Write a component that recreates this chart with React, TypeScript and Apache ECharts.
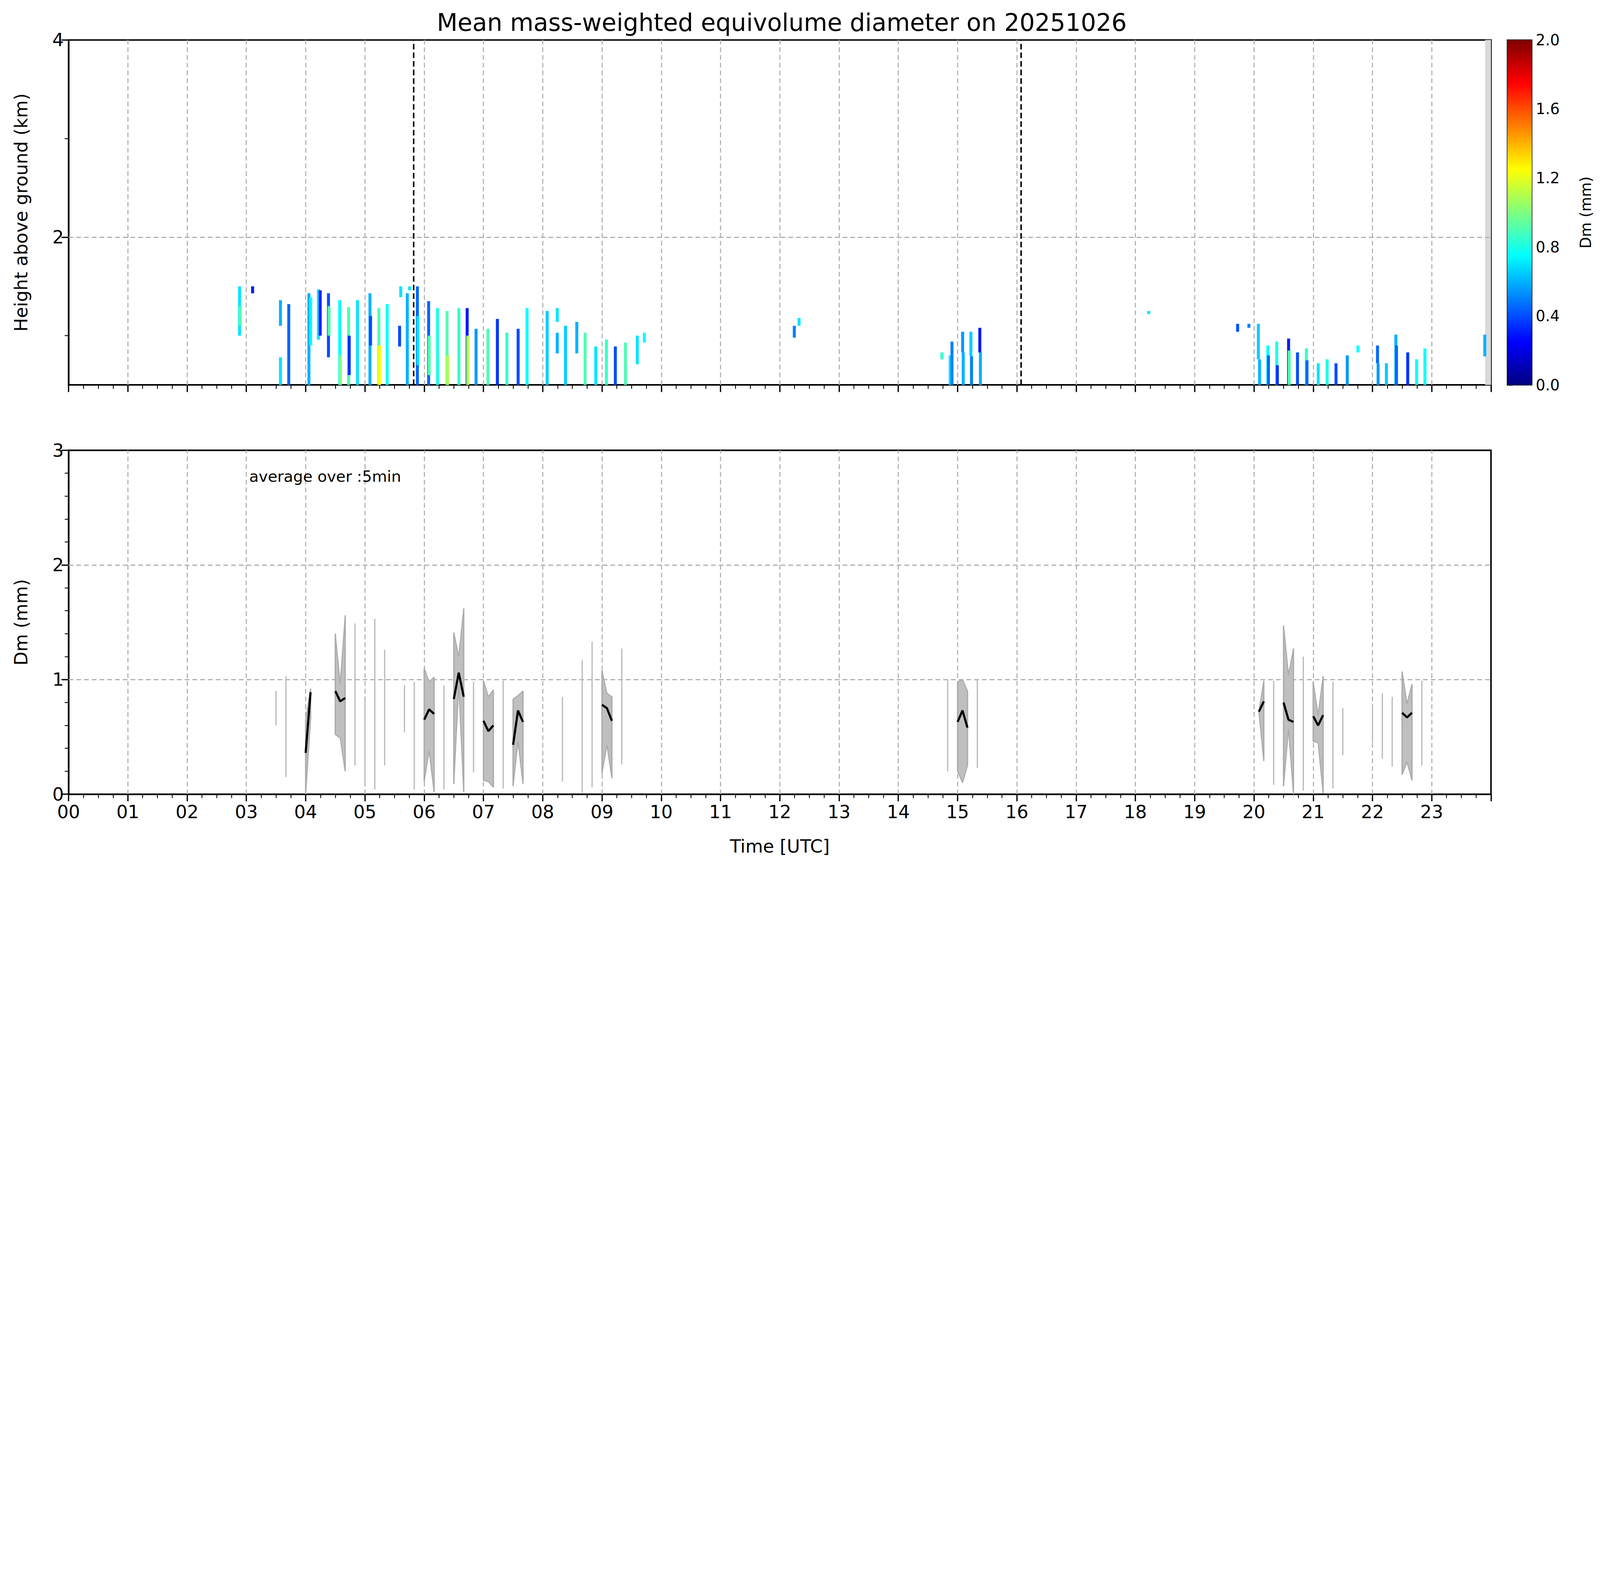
import React, { useEffect, useRef } from 'react';
import * as echarts from 'echarts';

// radar columns: time (h), bottom (km), top (km), Dm (mm)
const colTime = [
  2.86, 2.87, 3.08, 3.55, 3.55, 3.69, 4.03, 4.06, 4.19, 4.22, 4.36, 4.37, 4.55, 4.56, 4.70, 4.71,
  4.85, 5.06, 5.07, 5.21, 5.22, 5.35, 5.56, 5.58, 5.69, 5.73, 5.86, 5.87, 6.05, 6.06, 6.20, 6.36,
  6.37, 6.56, 6.70, 6.71, 6.85, 7.05, 7.21, 7.37, 7.56, 7.71, 8.05, 8.22, 8.22, 8.36, 8.55, 8.69,
  8.87, 9.05, 9.20, 9.37, 9.57, 9.69, 12.22, 12.30,
  14.71, 14.85, 14.88, 15.06, 15.07, 15.20, 15.21, 15.35, 15.36, 18.20,
  19.70, 19.89, 20.05, 20.07, 20.21, 20.22, 20.36, 20.37, 20.56, 20.57, 20.71, 20.86, 20.87, 21.06,
  21.21, 21.36, 21.55, 21.73, 22.06, 22.07, 22.21, 22.37, 22.38, 22.57, 22.72, 22.86, 23.87,
];
const colBottom = [
  1.0, 1.1, 1.43, 1.1, 0.5, 0.5, 0.5, 0.9, 0.96, 1.0, 0.78, 1.0, 0.5, 0.5, 0.5, 0.6,
  0.5, 0.5, 0.9, 0.5, 0.5, 0.5, 0.89, 1.39, 0.5, 1.46, 0.5, 0.7, 0.5, 0.6, 0.5, 0.5,
  0.5, 0.5, 0.5, 0.5, 0.5, 0.5, 0.5, 0.5, 0.5, 0.5, 0.5, 1.14, 0.82, 0.5, 0.82, 0.5,
  0.5, 0.5, 0.5, 0.5, 0.71, 0.93, 0.98, 1.1,
  0.76, 0.5, 0.5, 0.83, 0.5, 0.79, 0.5, 0.83, 0.5, 1.22,
  1.04, 1.08, 0.76, 0.5, 0.5, 0.5, 0.5, 0.5, 0.5, 0.5, 0.5, 0.5, 0.5, 0.5,
  0.5, 0.5, 0.5, 0.83, 0.72, 0.5, 0.5, 0.5, 0.5, 0.5, 0.5, 0.5, 0.79,
];
const colTop = [
  1.5, 1.3, 1.5, 1.36, 0.78, 1.32, 1.43, 1.39, 1.47, 1.46, 1.43, 1.3, 1.36, 0.8, 1.29, 1.0,
  1.36, 1.43, 1.2, 1.28, 0.9, 1.32, 1.1, 1.5, 1.43, 1.5, 1.5, 1.2, 1.35, 1.0, 1.28, 1.25,
  0.8, 1.28, 1.28, 1.0, 1.07, 1.07, 1.17, 1.03, 1.07, 1.28, 1.25, 1.28, 1.03, 1.1, 1.14, 1.03,
  0.89, 0.96, 0.89, 0.93, 1.0, 1.03, 1.1, 1.18,
  0.83, 0.8, 0.94, 1.04, 0.83, 1.04, 0.79, 1.08, 0.83, 1.25,
  1.12, 1.12, 1.12, 0.76, 0.9, 0.8, 0.94, 0.7, 0.97, 0.85, 0.83, 0.87, 0.75, 0.72,
  0.76, 0.72, 0.8, 0.9, 0.9, 0.72, 0.72, 1.01, 0.9, 0.83, 0.76, 0.87, 1.01,
];
const colDm = [
  0.7, 0.9, 0.3, 0.6, 0.7, 0.45, 0.6, 0.75, 0.7, 0.3, 0.4, 0.9, 0.75, 1.0, 0.9, 0.35,
  0.7, 0.6, 0.4, 0.9, 1.25, 0.75, 0.4, 0.7, 0.6, 0.7, 0.45, 0.7, 0.45, 0.9, 0.8, 0.9,
  1.1, 0.85, 0.3, 1.1, 0.55, 0.9, 0.35, 0.85, 0.4, 0.75, 0.65, 0.7, 0.6, 0.65, 0.6, 0.9,
  0.7, 0.85, 0.4, 0.9, 0.7, 0.75, 0.5, 0.7,
  0.85, 0.7, 0.5, 0.55, 0.6, 0.65, 0.5, 0.3, 0.6, 0.7,
  0.4, 0.5, 0.65, 0.6, 0.75, 0.45, 0.8, 0.35, 0.3, 0.9, 0.4, 0.85, 0.45, 0.7,
  0.8, 0.4, 0.55, 0.75, 0.45, 0.55, 0.65, 0.6, 0.45, 0.35, 0.75, 0.75, 0.6,
];

// 5-min averages: time (h), mean, mean-std, mean+std
const dmTime = [
  3.5, 3.667, 4.0, 4.083, 4.5, 4.583, 4.667, 4.833, 5.0, 5.167, 5.333, 5.667, 5.833,
  6.0, 6.083, 6.167, 6.333, 6.5, 6.583, 6.667, 6.833, 7.0, 7.083, 7.167, 7.333,
  7.5, 7.583, 7.667, 8.333, 8.667, 8.833, 9.0, 9.083, 9.167, 9.333,
  14.833, 15.0, 15.083, 15.167, 15.333,
  20.083, 20.167, 20.333, 20.5, 20.583, 20.667, 20.833, 21.0, 21.083, 21.167, 21.333, 21.5,
  22.0, 22.167, 22.333, 22.5, 22.583, 22.667, 22.833,
];
const dmMean = [
  0.75, 0.6, 0.36, 0.89, 0.9, 0.81, 0.84, 0.85, 0.5, 0.8, 0.75, 0.75, 0.5,
  0.65, 0.74, 0.7, 0.5, 0.83, 1.06, 0.85, 0.6, 0.64, 0.55, 0.6, 0.5,
  0.43, 0.73, 0.63, 0.5, 0.6, 0.7, 0.78, 0.75, 0.64, 0.75,
  0.6, 0.63, 0.73, 0.58, 0.6,
  0.72, 0.81, 0.55, 0.8, 0.65, 0.63, 0.6, 0.68, 0.6, 0.69, 0.5, 0.55,
  0.6, 0.6, 0.55, 0.71, 0.67, 0.71, 0.6,
];
const dmLo = [
  0.6, 0.15, 0.0, 0.65, 0.52, 0.49, 0.2, 0.25, 0.08, 0.04, 0.25, 0.54, 0.04,
  0.11, 0.38, 0.02, 0.04, 0.09, 0.95, 0.02, 0.19, 0.12, 0.11, 0.06, 0.05,
  0.07, 0.46, 0.09, 0.11, 0.01, 0.06, 0.18, 0.43, 0.14, 0.26,
  0.2, 0.2, 0.1, 0.25, 0.23,
  0.72, 0.29, 0.08, 0.07, 0.57, 0.0, 0.03, 0.46, 0.45, 0.01, 0.05, 0.34,
  0.45, 0.31, 0.24, 0.17, 0.28, 0.12, 0.25,
];
const dmHi = [
  0.9, 1.03, 0.65, 0.92, 1.4, 0.96, 1.56, 1.49, 0.84, 1.53, 1.26, 0.95, 0.98,
  1.1, 0.98, 1.02, 0.95, 1.41, 1.2, 1.62, 0.98, 0.99, 0.85, 0.91, 0.99,
  0.83, 0.86, 0.9, 0.85, 1.17, 1.33, 1.08, 0.88, 0.85, 1.27,
  1.0, 0.98, 1.0, 0.9, 1.0,
  0.72, 0.99, 0.99, 1.47, 1.04, 1.27, 1.2, 0.98, 0.69, 1.03, 0.98, 0.75,
  0.77, 0.88, 0.85, 1.07, 0.79, 0.96, 0.99,
];

const hourLabels = Array.from({ length: 24 }, (_, i) => String(i).padStart(2, '0'));
const hourGrid = Array.from({ length: 23 }, (_, i) => i + 1);
const colorbarTicks = [0, 0.4, 0.8, 1.2, 1.6, 2.0];
const radarGaps = [5.82, 16.07];

const jet = ['#00007f', '#0000ff', '#007fff', '#00ffff', '#7fff7f', '#ffff00', '#ff7f00', '#ff0000', '#7f0000'];
const FONT = 'DejaVu Sans';
const COL_W = 0.05;
const STEP = 0.1; // contiguity threshold for 5-min samples

const near = (i: number, j: number) =>
  j >= 0 && j < dmTime.length && Math.abs(dmTime[j] - dmTime[i]) < STEP;

const App: React.FC = () => {
  const chartRef = useRef<HTMLDivElement>(null);

  useEffect(() => {
    if (!chartRef.current) return;
    document.body.style.margin = '0';
    let W = window.innerWidth;
    let H = Math.round((W * 4031) / 7442);
    if (window.innerHeight > 0 && H > window.innerHeight) {
      H = window.innerHeight;
      W = Math.round((H * 7442) / 4031);
    }
    chartRef.current.style.width = W + 'px';
    chartRef.current.style.height = H + 'px';
    const s = W / 7442;
    const X = (v: number) => v * s;

    const chart = echarts.init(chartRef.current, null, { renderer: 'svg' });

    const dashed = { color: '#b0b0b0', width: 5 * s, type: [22 * s, 14 * s] as any };
    const tick = { length: 33 * s, lineStyle: { color: '#000', width: 6 * s } };
    const minor = { length: 18 * s, lineStyle: { color: '#000', width: 4 * s } };
    const label = { fontSize: 84 * s, fontFamily: FONT, color: '#000' };
    const axisLine = { show: true, lineStyle: { color: '#000', width: 7 * s } };

    const xBase = (grid: number, labels: boolean) => ({
      type: 'value' as const,
      gridIndex: grid,
      min: 0,
      max: 24,
      interval: 1,
      axisLine,
      axisTick: tick,
      minorTick: { show: true, splitNumber: 4, ...minor },
      splitLine: { show: false },
      axisLabel: {
        show: labels,
        ...label,
        margin: 40 * s,
        formatter: (v: number) => (v < 24 ? hourLabels[v] : ''),
      },
    });

    const vGrid = hourGrid.map((x) => ({ xAxis: x, lineStyle: dashed }));

    const meanLine: (number[] | null)[] = [];
    dmTime.forEach((t, i) => {
      if (i > 0 && !near(i, i - 1)) meanLine.push(null);
      meanLine.push([t, dmMean[i]]);
    });

    const edge = '#ababab';

    const option: any = {
      animation: false,
      title: [
        {
          text: 'Mean mass-weighted equivolume diameter on 20251026',
          left: X(3627),
          top: X(40),
          textAlign: 'center',
          textStyle: { fontSize: 112 * s, fontWeight: 'normal', fontFamily: FONT, color: '#000' },
        },
        {
          text: 'average over :5min',
          left: X(1150),
          top: X(2170),
          textStyle: { fontSize: 72 * s, fontWeight: 'normal', fontFamily: FONT, color: '#000' },
        },
      ],
      grid: [
        { left: X(319), top: X(186), width: X(6616), height: X(1604), show: true, borderColor: '#000', borderWidth: 7 * s },
        { left: X(319), top: X(2094), width: X(6616), height: X(1599), show: true, borderColor: '#000', borderWidth: 7 * s },
        { left: X(7011), top: X(186), width: X(114), height: X(1604), show: true, borderColor: '#000', borderWidth: 5 * s },
      ],
      visualMap: {
        show: false,
        type: 'continuous',
        seriesIndex: 0,
        dimension: 3,
        min: 0,
        max: 2,
        inRange: { color: jet },
      },
      xAxis: [
        xBase(0, false),
        {
          ...xBase(1, true),
          name: 'Time [UTC]',
          nameLocation: 'middle',
          nameGap: 200 * s,
          nameTextStyle: { fontSize: 84 * s, fontFamily: FONT, color: '#000' },
        },
        { type: 'value', gridIndex: 2, min: 0, max: 1, show: false },
      ],
      yAxis: [
        {
          type: 'value',
          gridIndex: 0,
          min: 0.5,
          max: 4,
          name: 'Height above ground (km)',
          nameLocation: 'middle',
          nameGap: 180 * s,
          nameTextStyle: { fontSize: 84 * s, fontFamily: FONT, color: '#000' },
          axisLine,
          axisTick: { show: true, customValues: [2, 4], ...tick },
          axisLabel: { customValues: [2, 4], ...label, margin: 22 * s },
          splitLine: { show: false },
        },
        {
          type: 'value',
          gridIndex: 1,
          min: 0,
          max: 3,
          interval: 1,
          name: 'Dm (mm)',
          nameLocation: 'middle',
          nameGap: 180 * s,
          nameTextStyle: { fontSize: 84 * s, fontFamily: FONT, color: '#000' },
          axisLine,
          axisTick: { show: true, ...tick },
          minorTick: { show: true, splitNumber: 5, ...minor },
          axisLabel: { ...label, margin: 22 * s },
          splitLine: { show: false },
        },
        {
          type: 'value',
          gridIndex: 2,
          position: 'right',
          min: 0,
          max: 2,
          interval: 0.4,
          name: 'Dm (mm)',
          nameLocation: 'middle',
          nameGap: 215 * s,
          nameRotate: 90,
          nameTextStyle: { fontSize: 70 * s, fontFamily: FONT, color: '#000' },
          axisLine: { show: false },
          axisTick: { show: true, length: 26 * s, lineStyle: { color: '#000', width: 5 * s } },
          axisLabel: {
            fontSize: 70 * s,
            fontFamily: FONT,
            color: '#000',
            margin: 18 * s,
            formatter: (v: number) => v.toFixed(1),
          },
          splitLine: { show: false },
        },
        {
          type: 'value',
          gridIndex: 0,
          min: 0.5,
          max: 4,
          position: 'left',
          axisLine: { show: false },
          axisLabel: { show: false },
          axisTick: { show: true, customValues: [1, 3], ...minor },
          splitLine: { show: false },
        },
      ],
      series: [
        {
          type: 'custom',
          xAxisIndex: 0,
          yAxisIndex: 0,
          encode: { x: 0, y: [1, 2] },
          data: colTime.map((t, i) => [t, colBottom[i], colTop[i], colDm[i]]),
          renderItem: (params: any, api: any) => {
            const t = api.value(0);
            const p0 = api.coord([t, api.value(1)]);
            const p1 = api.coord([t + COL_W, api.value(2)]);
            return {
              type: 'rect',
              shape: { x: p0[0], y: p1[1], width: p1[0] - p0[0], height: p0[1] - p1[1] },
              style: { fill: api.visual('color') },
            };
          },
          markArea: {
            silent: true,
            itemStyle: { color: '#d9d9d9' },
            data: [[{ xAxis: 23.9, yAxis: 0.5 }, { xAxis: 24, yAxis: 4 }]],
          },
          markLine: {
            silent: true,
            symbol: 'none',
            label: { show: false },
            z: 1,
            data: [
              { yAxis: 2, lineStyle: dashed },
              ...vGrid,
              ...radarGaps.map((x) => ({
                xAxis: x,
                lineStyle: { color: '#000', width: 7 * s, type: [26 * s, 14 * s] },
              })),
            ],
          },
        },
        {
          type: 'custom',
          xAxisIndex: 1,
          yAxisIndex: 1,
          encode: { x: 0, y: [2, 3] },
          data: dmTime.map((t, i) => [t, dmMean[i], dmLo[i], dmHi[i]]),
          renderItem: (params: any, api: any) => {
            const i = params.dataIndex;
            const c = (t: number, v: number) => api.coord([t, v]);
            const children: any[] = [];
            const hasPrev = near(i, i - 1);
            const hasNext = near(i, i + 1);
            if (hasNext) {
              const a = c(dmTime[i], dmHi[i]);
              const b = c(dmTime[i + 1], dmHi[i + 1]);
              const d = c(dmTime[i + 1], dmLo[i + 1]);
              const e = c(dmTime[i], dmLo[i]);
              children.push({ type: 'polygon', shape: { points: [a, b, d, e] }, style: { fill: '#bfbfbf', stroke: '#bfbfbf', lineWidth: 1 } });
              children.push({ type: 'line', shape: { x1: a[0], y1: a[1], x2: b[0], y2: b[1] }, style: { stroke: edge, lineWidth: 5 * s } });
              children.push({ type: 'line', shape: { x1: e[0], y1: e[1], x2: d[0], y2: d[1] }, style: { stroke: edge, lineWidth: 5 * s } });
            }
            if (!hasPrev || !hasNext) {
              const top = c(dmTime[i], dmHi[i]);
              const bot = c(dmTime[i], dmLo[i]);
              children.push({
                type: 'line',
                shape: { x1: top[0], y1: top[1], x2: bot[0], y2: bot[1] },
                style: { stroke: hasPrev || hasNext ? edge : '#bdbdbd', lineWidth: 6 * s },
              });
            }
            return { type: 'group', children };
          },
          markLine: {
            silent: true,
            symbol: 'none',
            label: { show: false },
            z: 1,
            data: [{ yAxis: 1, lineStyle: dashed }, { yAxis: 2, lineStyle: dashed }, ...vGrid],
          },
        },
        {
          type: 'line',
          xAxisIndex: 1,
          yAxisIndex: 1,
          data: meanLine,
          showSymbol: false,
          connectNulls: false,
          lineStyle: { color: '#000', width: 10 * s },
          z: 5,
        },
        {
          type: 'custom',
          xAxisIndex: 2,
          yAxisIndex: 2,
          data: [[0, 0]],
          renderItem: (params: any, api: any) => {
            const p0 = api.coord([0, colorbarTicks[0]]);
            const p1 = api.coord([1, colorbarTicks[colorbarTicks.length - 1]]);
            return {
              type: 'rect',
              shape: { x: p0[0], y: p1[1], width: p1[0] - p0[0], height: p0[1] - p1[1] },
              style: {
                fill: new echarts.graphic.LinearGradient(
                  0, 1, 0, 0,
                  jet.map((color, k) => ({ offset: k / (jet.length - 1), color }))
                ),
              },
            };
          },
        },
      ],
    };

    chart.setOption(option);
    return () => chart.dispose();
  }, []);

  return <div ref={chartRef} style={{ width: '7442px', height: '4031px' }} />;
};

export default App;
